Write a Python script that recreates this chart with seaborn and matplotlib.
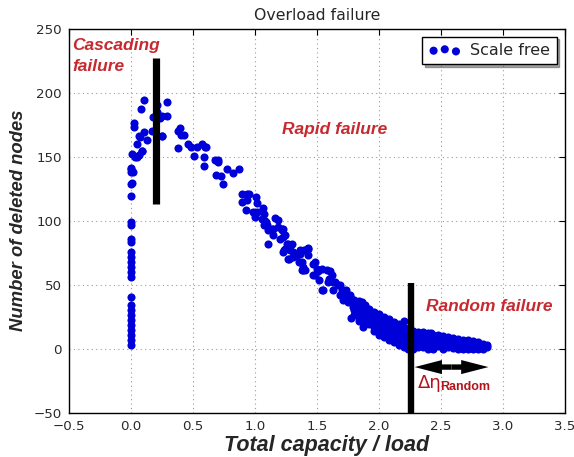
import matplotlib
matplotlib.use("Agg")
import matplotlib.pyplot as plt
import pandas as pd
import seaborn as sns

# Nodes removed after overload, against total capacity / load ratio
zero_capacity = [2.6, 6.5, 10.4, 14.3, 18.2, 22.1, 26.0, 29.9, 33.8, 40.3,
                 55.9, 59.8, 63.7, 67.7, 71.6, 75.5, 83.3, 86.0, 96.3, 98.9,
                 119.0, 129.0, 138.0, 141.0]

peak_points = [
    (0.005, 140.6), (0.013, 129.7), (0.013, 152.0), (0.021, 138.0),
    (0.027, 176.0), (0.027, 173.0), (0.035, 150.0), (0.048, 150.0),
    (0.053, 160.0), (0.065, 151.0), (0.069, 166.0), (0.075, 165.0),
    (0.083, 187.0), (0.090, 154.0), (0.094, 154.0), (0.107, 194.0),
    (0.110, 169.0), (0.131, 163.0), (0.174, 170.0), (0.182, 181.0),
    (0.196, 170.0), (0.210, 190.0), (0.215, 185.0), (0.230, 181.0),
    (0.236, 180.0), (0.250, 182.0), (0.250, 166.0), (0.255, 166.0),
    (0.290, 182.0), (0.295, 193.0),
]

decline_points = [
    (0.379, 157.0), (0.384, 170.0), (0.400, 172.0), (0.403, 167.0),
    (0.430, 167.0), (0.465, 160.0), (0.490, 157.5), (0.510, 150.5),
    (0.532, 157.5), (0.578, 160.0), (0.590, 150.0), (0.590, 142.4),
    (0.600, 157.5), (0.610, 157.5), (0.680, 147.0), (0.700, 145.8),
    (0.707, 147.0), (0.688, 136.0), (0.726, 135.0), (0.747, 129.0),
    (0.774, 140.0), (0.822, 137.0), (0.873, 140.0), (0.895, 121.0),
    (0.900, 114.5), (0.935, 121.0), (0.935, 116.0), (0.930, 108.0),
    (0.956, 121.0), (0.990, 107.0), (1.000, 103.0), (1.010, 118.4),
    (1.016, 114.0), (1.016, 107.0),
]

middle_points = [
    (1.056, 101.6), (1.070, 110.0), (1.075, 105.0), (1.075, 96.3),
    (1.083, 99.7), (1.091, 98.9), (1.097, 97.0), (1.110, 92.4),
    (1.110, 82.0), (1.137, 93.7), (1.150, 93.7), (1.150, 88.5),
    (1.164, 102.0), (1.190, 100.8), (1.190, 95.0), (1.204, 86.0),
    (1.217, 93.7), (1.217, 92.4), (1.230, 87.2), (1.230, 93.7),
    (1.230, 75.5), (1.236, 77.0), (1.244, 88.5), (1.244, 78.0),
    (1.258, 82.0), (1.270, 82.0), (1.270, 70.3), (1.280, 70.3),
    (1.285, 76.8), (1.300, 82.0), (1.306, 75.5), (1.310, 71.6),
    (1.325, 73.0), (1.340, 73.0), (1.360, 67.7), (1.365, 74.2),
    (1.365, 76.8), (1.380, 67.7), (1.380, 61.7), (1.390, 63.7),
    (1.390, 61.2), (1.397, 76.8), (1.406, 61.2), (1.420, 78.0),
    (1.430, 78.0), (1.430, 73.0), (1.430, 79.0), (1.470, 57.3),
    (1.473, 66.4), (1.486, 57.3), (1.486, 67.7), (1.500, 62.5),
    (1.510, 61.0), (1.520, 53.4), (1.540, 62.5), (1.540, 45.5),
    (1.553, 46.0), (1.580, 61.2), (1.594, 52.0), (1.600, 54.7),
    (1.607, 61.0), (1.620, 57.3), (1.630, 52.0), (1.634, 45.5),
    (1.648, 52.0), (1.674, 49.5), (1.688, 41.6), (1.690, 49.5),
    (1.700, 45.5), (1.710, 45.5), (1.715, 37.7), (1.728, 40.3),
    (1.740, 45.5), (1.755, 36.4), (1.769, 40.3), (1.770, 41.6),
    (1.780, 24.2), (1.795, 37.7), (1.795, 32.5), (1.823, 35.0),
    (1.850, 32.5), (1.863, 36.4), (1.876, 17.0), (1.890, 33.8),
]

tail_points = [
    (1.80, 38), (1.80, 34), (1.80, 30), (1.80, 26),
    (1.84, 37), (1.84, 33), (1.84, 29), (1.84, 25), (1.84, 22),
    (1.88, 34), (1.88, 30), (1.88, 26), (1.88, 22), (1.88, 20),
    (1.92, 31), (1.92, 27), (1.92, 23), (1.92, 19),
    (1.96, 29), (1.96, 25), (1.96, 21), (1.96, 17), (1.96, 14),
    (2.00, 27), (2.00, 23), (2.00, 19), (2.00, 15), (2.00, 11),
    (2.04, 25), (2.04, 21), (2.04, 17), (2.04, 13), (2.04, 9),
    (2.08, 23), (2.08, 19), (2.08, 15), (2.08, 11), (2.08, 7),
    (2.12, 21), (2.12, 17), (2.12, 13), (2.12, 9), (2.12, 5),
    (2.16, 19), (2.16, 15), (2.16, 11), (2.16, 7), (2.16, 3),
    (2.20, 17), (2.20, 13), (2.20, 9), (2.20, 5), (2.20, 1), (2.20, 21.6),
    (2.24, 15), (2.24, 11), (2.24, 7), (2.24, 3), (2.24, 0),
    (2.28, 14), (2.28, 10), (2.28, 6), (2.28, 2), (2.28, 0),
    (2.32, 13), (2.32, 9), (2.32, 5), (2.32, 1),
    (2.36, 13), (2.36, 9), (2.36, 5), (2.36, 1),
    (2.40, 12), (2.40, 8), (2.40, 4), (2.40, 0), (2.42, 12.2),
    (2.44, 11), (2.44, 7), (2.44, 3), (2.44, 0),
    (2.48, 10.5), (2.48, 6.5), (2.48, 2.5),
    (2.52, 10), (2.52, 6), (2.52, 2), (2.52, 0),
    (2.56, 9), (2.56, 5), (2.56, 1),
    (2.60, 8.5), (2.60, 4.5), (2.60, 0.5),
    (2.64, 8), (2.64, 4), (2.64, 0),
    (2.68, 7), (2.68, 3.5), (2.68, 0),
    (2.72, 6.5), (2.72, 3), (2.72, 0),
    (2.76, 6), (2.76, 2.5), (2.76, 0),
    (2.80, 5), (2.80, 2), (2.80, 0),
    (2.84, 4), (2.84, 1.5), (2.84, 0),
    (2.87, 3), (2.87, 1),
]

x_ticks = [-0.5, 0.0, 0.5, 1.0, 1.5, 2.0, 2.5, 3.0, 3.5]
y_ticks = [-50, 0, 50, 100, 150, 200, 250]

points = ([(0.0, v) for v in zero_capacity] + peak_points + decline_points
          + middle_points + tail_points)
df = pd.DataFrame(points, columns=["capacity", "deleted"])

sns.set_style("white")
plt.rcParams["font.family"] = ["DejaVu Sans"]

fig = plt.figure(figsize=(5.74, 4.57), dpi=100)
ax = fig.add_axes([0.1197, 0.0967, 0.8641, 0.8409])

sns.scatterplot(data=df, x="capacity", y="deleted", ax=ax, color="#0000d8",
                s=34, linewidth=0, label="Scale free", legend=False, zorder=3)

ax.set_xlim(-0.5, 3.5)
ax.set_ylim(-50, 250)
ax.set_xticks(x_ticks)
ax.set_yticks(y_ticks)
ax.grid(True, linestyle=(0, (1, 3)), color="#9a9a9a", linewidth=0.8)
for sp in ax.spines.values():
    sp.set_color("black")
    sp.set_linewidth(1.0)
ax.tick_params(direction="in", top=True, right=True, length=4, width=0.8,
               labelsize=9.6, colors="black", labelcolor="#2a2a2a", pad=5)

ax.set_title("Overload failure", fontsize=11.3, pad=6)
label_font = dict(family="Liberation Sans", weight="bold", style="italic")
ax.set_xlabel("Total capacity / load", fontsize=15.5, labelpad=3, **label_font)
ax.xaxis.set_label_coords(0.52, -0.058)
ax.set_ylabel("Number of deleted nodes", fontsize=13.3, labelpad=5, **label_font)

red = "#c62a30"
note_font = dict(family="Liberation Sans", weight="bold", style="italic",
                 color=red, fontsize=12.5)
ax.text(-0.473, 242.5, "Cascading\nfailure", ha="left", va="top",
        linespacing=1.45, **note_font)
ax.text(1.22, 171.5, "Rapid failure", ha="left", va="center", **note_font)
ax.text(2.38, 33.0, "Random failure", ha="left", va="center", **note_font)

# Region boundaries
ax.plot([0.2, 0.2], [113, 227], color="black", lw=5.2, solid_capstyle="butt",
        zorder=4)
ax.plot([2.26, 2.26], [51, -50], color="black", lw=4.6, solid_capstyle="butt",
        zorder=4)

# Double-headed arrow marking the random-failure range
arrow_y, arrow_left, arrow_right = -14.3, 2.29, 2.885
arrow_mid = (arrow_left + arrow_right) / 2
for tip in (arrow_left, arrow_right):
    ax.arrow(arrow_mid, arrow_y, tip - arrow_mid, 0, width=4.2, head_width=11,
             head_length=0.22, length_includes_head=True, color="black",
             linewidth=0, zorder=4)
ax.text(2.317, -31, "Δη", ha="left", va="baseline", fontsize=13,
        color="#b3151b", family="DejaVu Sans")
ax.text(2.495, -32, "Random", ha="left", va="baseline", fontsize=9,
        color="#b3151b", family="Liberation Sans", weight="bold")

leg = ax.legend(loc="upper right", scatterpoints=3,
                scatteryoffsets=[0.375, 0.5, 0.3125], fontsize=11.5,
                fancybox=False, shadow=True, framealpha=1, borderaxespad=0.5,
                handletextpad=0.6, borderpad=0.4)
leg.get_frame().set_edgecolor("black")
leg.get_frame().set_linewidth(1.0)

fig.savefig("out.png", dpi=100)
